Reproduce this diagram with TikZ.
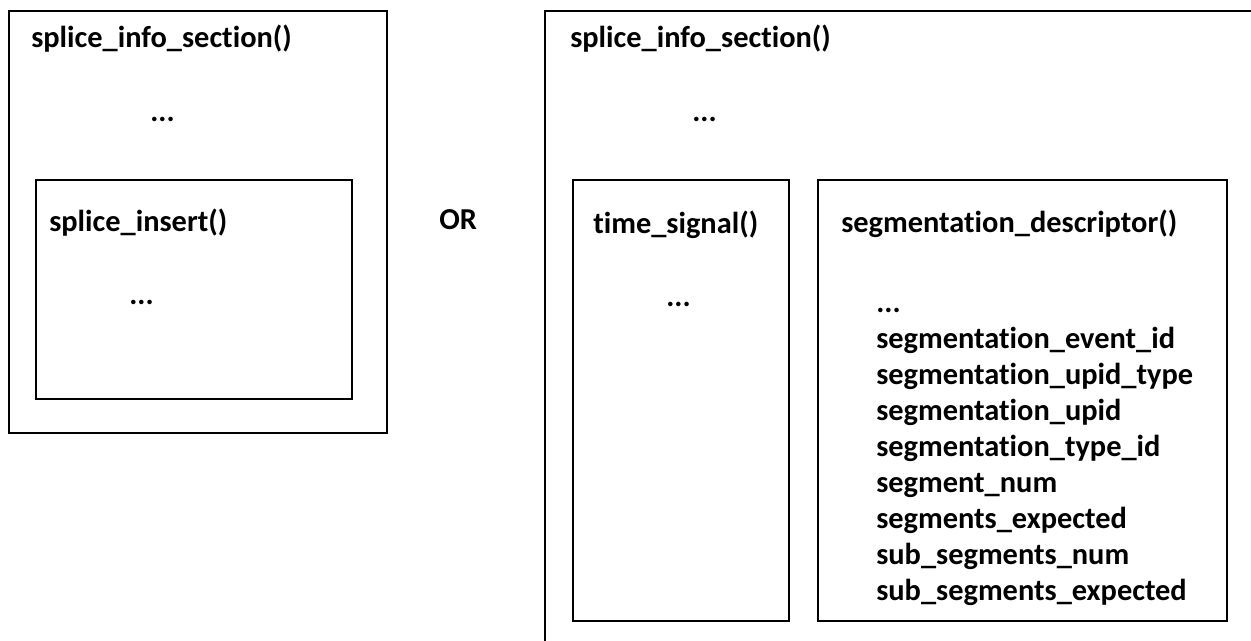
\documentclass[tikz,border=0pt]{standalone}
\usepackage{fontspec}
\setmainfont{Carlito}[Ligatures={NoCommon}]
\usetikzlibrary{positioning}

\tikzset{
	lbl/.style={inner sep=0pt, anchor=base west, font=\bfseries\fontsize{22.8}{27}\selectfont},
	box/.style={draw, line width=1.2pt},
}

\begin{document}
\begin{tikzpicture}[x=0.75pt,y=-0.75pt]
		\useasboundingbox (0,0) rectangle (1251,641);
		\clip (0,0) rectangle (1251,641);

		% splice_insert()
		\draw[box] (9,11) rectangle (387,433);
		\node[lbl] (infoa) at (31,48) {splice\_info\_section()};
		\node[lbl] (dotsa) at (150,122) {...};
		\draw[box] (36,180) rectangle (352,399);
		\node[lbl] (insert) at (49,232) {splice\_insert()};
		\node[lbl] (dotsb) at (129,305) {...};

		\node[lbl] (or) at (439,230) {OR};

		% time_signal() + segmentation_descriptor()
		\draw[box] (1280,11) -- (545,11) -- (545,680);
		\node[lbl] (infob) at (570,48) {splice\_info\_section()};
		\node[lbl] (dotsc) at (692,122) {...};

		\draw[box] (573,180) rectangle (789,621);
		\node[lbl] (tsig) at (593,234) {time\_signal()};
		\node[lbl] (dotsd) at (666,306) {...};

		\draw[box] (818,180) rectangle (1227,621);
		\node[lbl] (segdesc) at (841,233) {segmentation\_descriptor()};
		\node[lbl] (dotse) at (876,312) {...};
		\node[lbl,below=27pt of dotse.base west,anchor=base west] (eventid){segmentation\_event\_id};
		\node[lbl,below=27pt of eventid.base west,anchor=base west] (upidtype){segmentation\_upid\_type};
		\node[lbl,below=27pt of upidtype.base west,anchor=base west] (upid){segmentation\_upid};
		\node[lbl,below=27pt of upid.base west,anchor=base west] (typeid){segmentation\_type\_id};
		\node[lbl,below=27pt of typeid.base west,anchor=base west] (segnum){segment\_num};
		\node[lbl,below=27pt of segnum.base west,anchor=base west] (segexp){segments\_expected};
		\node[lbl,below=27pt of segexp.base west,anchor=base west] (subnum){sub\_segments\_num};
		\node[lbl,below=27pt of subnum.base west,anchor=base west] (subexp){sub\_segments\_expected};

	\end{tikzpicture}
\end{document}
